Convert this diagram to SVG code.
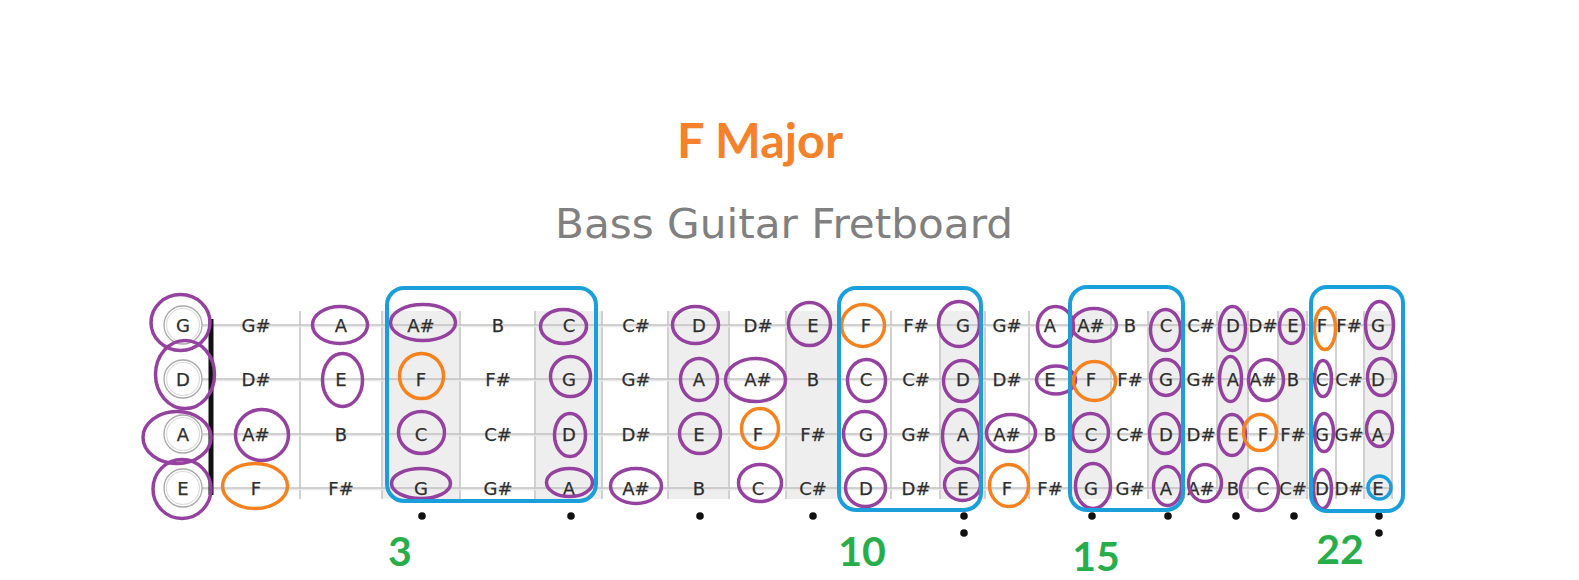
<svg xmlns="http://www.w3.org/2000/svg" width="1579" height="580" viewBox="0 0 1579 580">
<style>
.n{font-family:"DejaVu Sans",Verdana,sans-serif;font-size:18px;fill:#2e2e2e;stroke:#2e2e2e;stroke-width:0.25;text-anchor:middle}
.sh{fill:#eeeeee}
.fr{stroke:#d0d0d0;stroke-width:2}
.st{stroke:#c2c2c2;stroke-width:1.6}
.st2{stroke:#e8e8e8;stroke-width:1.4}
.oc{fill:#fff;stroke:#a8a8a8;stroke-width:1.3}
.oc2{fill:none;stroke:#dcdcdc;stroke-width:1.2}
.p{fill:none;stroke:#9541a0;stroke-width:3.5}
.o{fill:none;stroke:#f5821f;stroke-width:3.5}
.b{fill:none;stroke:#1a9fda;stroke-width:4}
.dot{fill:#111}
.num{font-family:Lato,"Open Sans",sans-serif;font-weight:700;font-size:41px;fill:#27ae4a;text-anchor:middle}
</style>
<rect width="1579" height="580" fill="#fff"/>
<g id="title">
<text x="760" y="158" font-family="Lato,'Open Sans',sans-serif" font-weight="700" font-size="47" fill="#f5822a" text-anchor="middle" textLength="166" lengthAdjust="spacingAndGlyphs">F Major</text>
<text x="784" y="238" font-family="'DejaVu Sans',Verdana,sans-serif" font-size="41" fill="#808080" text-anchor="middle" textLength="458" lengthAdjust="spacingAndGlyphs">Bass Guitar Fretboard</text>
</g>
<g id="fretboard">
<g id="shading">
<rect class="sh" x="382" y="311" width="78" height="188"/>
<rect class="sh" x="535" y="311" width="67" height="188"/>
<rect class="sh" x="668" y="311" width="61" height="188"/>
<rect class="sh" x="786" y="311" width="54" height="188"/>
<rect class="sh" x="940" y="311" width="45" height="188"/>
<rect class="sh" x="1070" y="311" width="41" height="188"/>
<rect class="sh" x="1148" y="311" width="36" height="188"/>
<rect class="sh" x="1217" y="311" width="31" height="188"/>
<rect class="sh" x="1278" y="311" width="29" height="188"/>
<rect class="sh" x="1364" y="311" width="28" height="188"/>
</g>
<g id="frets">
<line class="fr" x1="300" y1="311" x2="300" y2="499"/>
<line class="fr" x1="382" y1="311" x2="382" y2="499"/>
<line class="fr" x1="460" y1="311" x2="460" y2="499"/>
<line class="fr" x1="535" y1="311" x2="535" y2="499"/>
<line class="fr" x1="602" y1="311" x2="602" y2="499"/>
<line class="fr" x1="668" y1="311" x2="668" y2="499"/>
<line class="fr" x1="729" y1="311" x2="729" y2="499"/>
<line class="fr" x1="786" y1="311" x2="786" y2="499"/>
<line class="fr" x1="840" y1="311" x2="840" y2="499"/>
<line class="fr" x1="891" y1="311" x2="891" y2="499"/>
<line class="fr" x1="940" y1="311" x2="940" y2="499"/>
<line class="fr" x1="985" y1="311" x2="985" y2="499"/>
<line class="fr" x1="1029" y1="311" x2="1029" y2="499"/>
<line class="fr" x1="1070" y1="311" x2="1070" y2="499"/>
<line class="fr" x1="1111" y1="311" x2="1111" y2="499"/>
<line class="fr" x1="1148" y1="311" x2="1148" y2="499"/>
<line class="fr" x1="1184" y1="311" x2="1184" y2="499"/>
<line class="fr" x1="1217" y1="311" x2="1217" y2="499"/>
<line class="fr" x1="1248" y1="311" x2="1248" y2="499"/>
<line class="fr" x1="1278" y1="311" x2="1278" y2="499"/>
<line class="fr" x1="1307" y1="311" x2="1307" y2="499"/>
<line class="fr" x1="1336" y1="311" x2="1336" y2="499"/>
<line class="fr" x1="1364" y1="311" x2="1364" y2="499"/>
<line class="fr" x1="1392" y1="311" x2="1392" y2="499"/>
</g>
<g id="strings">
<line class="st2" x1="201" y1="326.5" x2="1393" y2="326.5"/>
<line class="st2" x1="201" y1="380.5" x2="1393" y2="380.5"/>
<line class="st2" x1="201" y1="435.5" x2="1393" y2="435.5"/>
<line class="st2" x1="201" y1="489.5" x2="1393" y2="489.5"/>
<line class="st" x1="201" y1="325" x2="1393" y2="325"/>
<line class="st" x1="201" y1="379" x2="1393" y2="379"/>
<line class="st" x1="201" y1="434" x2="1393" y2="434"/>
<line class="st" x1="201" y1="488" x2="1393" y2="488"/>
</g>
<rect id="nut" x="208.5" y="319" width="5" height="176" fill="#111"/>
</g>
<g id="open-strings">
<circle class="oc" cx="183" cy="325" r="19"/><circle class="oc2" cx="183" cy="325" r="16.5"/><text class="n" x="183" y="331.5">G</text>
<circle class="oc" cx="183" cy="379" r="19"/><circle class="oc2" cx="183" cy="379" r="16.5"/><text class="n" x="183" y="385.5">D</text>
<circle class="oc" cx="183" cy="434" r="19"/><circle class="oc2" cx="183" cy="434" r="16.5"/><text class="n" x="183" y="440.5">A</text>
<circle class="oc" cx="183" cy="488" r="19"/><circle class="oc2" cx="183" cy="488" r="16.5"/><text class="n" x="183" y="494.5">E</text>
</g>
<g id="notes-G">
<text class="n" x="256" y="331.5">G#</text><text class="n" x="341" y="331.5">A</text><text class="n" x="421" y="331.5">A#</text><text class="n" x="498" y="331.5">B</text><text class="n" x="569" y="331.5">C</text><text class="n" x="636" y="331.5">C#</text><text class="n" x="699" y="331.5">D</text><text class="n" x="758" y="331.5">D#</text><text class="n" x="813" y="331.5">E</text><text class="n" x="866" y="331.5">F</text><text class="n" x="916" y="331.5">F#</text><text class="n" x="963" y="331.5">G</text><text class="n" x="1007" y="331.5">G#</text><text class="n" x="1050" y="331.5">A</text><text class="n" x="1091" y="331.5">A#</text><text class="n" x="1130" y="331.5">B</text><text class="n" x="1166" y="331.5">C</text><text class="n" x="1201" y="331.5">C#</text><text class="n" x="1233" y="331.5">D</text><text class="n" x="1263" y="331.5">D#</text><text class="n" x="1293" y="331.5">E</text><text class="n" x="1322" y="331.5">F</text><text class="n" x="1349" y="331.5">F#</text><text class="n" x="1378" y="331.5">G</text>
</g>
<g id="notes-D">
<text class="n" x="256" y="385.5">D#</text><text class="n" x="341" y="385.5">E</text><text class="n" x="421" y="385.5">F</text><text class="n" x="498" y="385.5">F#</text><text class="n" x="569" y="385.5">G</text><text class="n" x="636" y="385.5">G#</text><text class="n" x="699" y="385.5">A</text><text class="n" x="758" y="385.5">A#</text><text class="n" x="813" y="385.5">B</text><text class="n" x="866" y="385.5">C</text><text class="n" x="916" y="385.5">C#</text><text class="n" x="963" y="385.5">D</text><text class="n" x="1007" y="385.5">D#</text><text class="n" x="1050" y="385.5">E</text><text class="n" x="1091" y="385.5">F</text><text class="n" x="1130" y="385.5">F#</text><text class="n" x="1166" y="385.5">G</text><text class="n" x="1201" y="385.5">G#</text><text class="n" x="1233" y="385.5">A</text><text class="n" x="1263" y="385.5">A#</text><text class="n" x="1293" y="385.5">B</text><text class="n" x="1322" y="385.5">C</text><text class="n" x="1349" y="385.5">C#</text><text class="n" x="1378" y="385.5">D</text>
</g>
<g id="notes-A">
<text class="n" x="256" y="440.5">A#</text><text class="n" x="341" y="440.5">B</text><text class="n" x="421" y="440.5">C</text><text class="n" x="498" y="440.5">C#</text><text class="n" x="569" y="440.5">D</text><text class="n" x="636" y="440.5">D#</text><text class="n" x="699" y="440.5">E</text><text class="n" x="758" y="440.5">F</text><text class="n" x="813" y="440.5">F#</text><text class="n" x="866" y="440.5">G</text><text class="n" x="916" y="440.5">G#</text><text class="n" x="963" y="440.5">A</text><text class="n" x="1007" y="440.5">A#</text><text class="n" x="1050" y="440.5">B</text><text class="n" x="1091" y="440.5">C</text><text class="n" x="1130" y="440.5">C#</text><text class="n" x="1166" y="440.5">D</text><text class="n" x="1201" y="440.5">D#</text><text class="n" x="1233" y="440.5">E</text><text class="n" x="1263" y="440.5">F</text><text class="n" x="1293" y="440.5">F#</text><text class="n" x="1322" y="440.5">G</text><text class="n" x="1349" y="440.5">G#</text><text class="n" x="1378" y="440.5">A</text>
</g>
<g id="notes-E">
<text class="n" x="256" y="494.5">F</text><text class="n" x="341" y="494.5">F#</text><text class="n" x="421" y="494.5">G</text><text class="n" x="498" y="494.5">G#</text><text class="n" x="569" y="494.5">A</text><text class="n" x="636" y="494.5">A#</text><text class="n" x="699" y="494.5">B</text><text class="n" x="758" y="494.5">C</text><text class="n" x="813" y="494.5">C#</text><text class="n" x="866" y="494.5">D</text><text class="n" x="916" y="494.5">D#</text><text class="n" x="963" y="494.5">E</text><text class="n" x="1007" y="494.5">F</text><text class="n" x="1050" y="494.5">F#</text><text class="n" x="1091" y="494.5">G</text><text class="n" x="1130" y="494.5">G#</text><text class="n" x="1166" y="494.5">A</text><text class="n" x="1201" y="494.5">A#</text><text class="n" x="1233" y="494.5">B</text><text class="n" x="1263" y="494.5">C</text><text class="n" x="1293" y="494.5">C#</text><text class="n" x="1322" y="494.5">D</text><text class="n" x="1349" y="494.5">D#</text><text class="n" x="1378" y="494.5">E</text>
</g>
<g id="inlays">
<circle class="dot" cx="422" cy="516" r="3.8"/>
<circle class="dot" cx="571" cy="516" r="3.8"/>
<circle class="dot" cx="700" cy="516" r="3.8"/>
<circle class="dot" cx="813" cy="516" r="3.8"/>
<circle class="dot" cx="964" cy="516" r="3.8"/>
<circle class="dot" cx="964" cy="533" r="3.8"/>
<circle class="dot" cx="1092" cy="516" r="3.8"/>
<circle class="dot" cx="1168" cy="516" r="3.8"/>
<circle class="dot" cx="1236" cy="516" r="3.8"/>
<circle class="dot" cx="1294" cy="516" r="3.8"/>
<circle class="dot" cx="1379" cy="516" r="3.8"/>
<circle class="dot" cx="1379" cy="533" r="3.8"/>
</g>
<g id="scale-notes">
<ellipse class="p" cx="180.5" cy="322.5" rx="29.5" ry="28"/>
<ellipse class="p" cx="185" cy="374.5" rx="29.5" ry="34"/>
<ellipse class="p" cx="177" cy="437.5" rx="34" ry="26"/>
<ellipse class="p" cx="182" cy="489" rx="29" ry="29.5"/>
<ellipse class="p" cx="262" cy="435" rx="26.5" ry="25.5"/>
<ellipse class="o" cx="255" cy="486" rx="32.5" ry="22.5"/>
<ellipse class="p" cx="340" cy="325" rx="27.5" ry="18.5"/>
<ellipse class="p" cx="342.5" cy="380" rx="20" ry="26.5"/>
<ellipse class="p" cx="423" cy="322.5" rx="32.5" ry="18"/>
<ellipse class="o" cx="421.5" cy="376" rx="22" ry="22.5"/>
<ellipse class="p" cx="421.5" cy="432.5" rx="23" ry="21"/>
<ellipse class="p" cx="421" cy="483.5" rx="29.5" ry="15"/>
<ellipse class="p" cx="563.5" cy="326.5" rx="23" ry="17"/>
<ellipse class="p" cx="570.5" cy="376.5" rx="20" ry="20"/>
<ellipse class="p" cx="570" cy="435" rx="15.5" ry="21.5"/>
<ellipse class="p" cx="569.5" cy="482.5" rx="23" ry="14"/>
<ellipse class="p" cx="636" cy="486" rx="25.5" ry="17.5"/>
<ellipse class="p" cx="695.5" cy="325" rx="23" ry="18.5"/>
<ellipse class="p" cx="699" cy="379.5" rx="18.5" ry="21"/>
<ellipse class="p" cx="700" cy="433.5" rx="20.5" ry="20"/>
<ellipse class="p" cx="755.5" cy="380" rx="30" ry="21.5"/>
<ellipse class="o" cx="760" cy="428.5" rx="18.5" ry="20"/>
<ellipse class="p" cx="760" cy="483" rx="21.5" ry="18.5"/>
<ellipse class="p" cx="809.5" cy="324" rx="21" ry="21.5"/>
<ellipse class="o" cx="863" cy="325.5" rx="21.5" ry="21"/>
<ellipse class="p" cx="866.5" cy="380.5" rx="19" ry="21"/>
<ellipse class="p" cx="864.5" cy="433.5" rx="21" ry="22"/>
<ellipse class="p" cx="865.5" cy="487.5" rx="20" ry="19"/>
<ellipse class="p" cx="959" cy="324" rx="20.5" ry="22.5"/>
<ellipse class="p" cx="962" cy="381" rx="18.5" ry="20.5"/>
<ellipse class="p" cx="961" cy="436" rx="18.5" ry="26.5"/>
<ellipse class="p" cx="962.5" cy="484.5" rx="18" ry="16"/>
<ellipse class="p" cx="1011" cy="433" rx="24.5" ry="18.5"/>
<ellipse class="o" cx="1009" cy="485.5" rx="19.5" ry="21"/>
<ellipse class="p" cx="1055.5" cy="326.5" rx="18" ry="20"/>
<ellipse class="p" cx="1056" cy="380" rx="19.5" ry="14"/>
<ellipse class="p" cx="1094" cy="325" rx="22.5" ry="16.5"/>
<ellipse class="o" cx="1094.5" cy="381" rx="21" ry="19.5"/>
<ellipse class="p" cx="1090.5" cy="432.5" rx="18" ry="19"/>
<ellipse class="p" cx="1093" cy="486" rx="17.5" ry="22.5"/>
<ellipse class="p" cx="1165.5" cy="330" rx="15" ry="20.5"/>
<ellipse class="p" cx="1166" cy="377.5" rx="15.5" ry="18"/>
<ellipse class="p" cx="1165" cy="433.5" rx="15.5" ry="20"/>
<ellipse class="p" cx="1167.5" cy="486" rx="14" ry="19.5"/>
<ellipse class="p" cx="1205" cy="483" rx="16.5" ry="18.5"/>
<ellipse class="p" cx="1232.5" cy="328.5" rx="13" ry="22"/>
<ellipse class="p" cx="1230.5" cy="379" rx="11" ry="22.5"/>
<ellipse class="p" cx="1232" cy="435" rx="13.5" ry="20.5"/>
<ellipse class="p" cx="1266" cy="380" rx="17.5" ry="20.5"/>
<ellipse class="o" cx="1260" cy="432.5" rx="16.5" ry="18"/>
<ellipse class="p" cx="1259.5" cy="489.5" rx="19" ry="21"/>
<ellipse class="p" cx="1291.5" cy="326.5" rx="12" ry="17"/>
<ellipse class="o" cx="1325" cy="328.5" rx="10.5" ry="21"/>
<ellipse class="p" cx="1323" cy="378.5" rx="8.5" ry="18"/>
<ellipse class="p" cx="1324" cy="432.5" rx="9.5" ry="19"/>
<ellipse class="p" cx="1322.5" cy="489" rx="9" ry="19.5"/>
<ellipse class="p" cx="1379.5" cy="325" rx="14" ry="23.5"/>
<ellipse class="p" cx="1381.5" cy="377" rx="14" ry="18.5"/>
<ellipse class="p" cx="1379.5" cy="429" rx="13" ry="17.5"/>
<circle class="b" cx="1379.5" cy="487.5" r="11.5" style="stroke-width:3.5"/>
</g>
<g id="positions">
<rect class="b" x="387" y="288" width="209" height="213" rx="17"/>
<rect class="b" x="839" y="288" width="142" height="222" rx="17"/>
<rect class="b" x="1070" y="287" width="113" height="223" rx="17"/>
<rect class="b" x="1311" y="287" width="92" height="224" rx="16"/>
</g>
<g id="position-labels">
<text class="num" x="400" y="566">3</text>
<text class="num" x="862" y="566">10</text>
<text class="num" x="1096" y="571">15</text>
<text class="num" x="1340" y="564">22</text>
</g>
</svg>
